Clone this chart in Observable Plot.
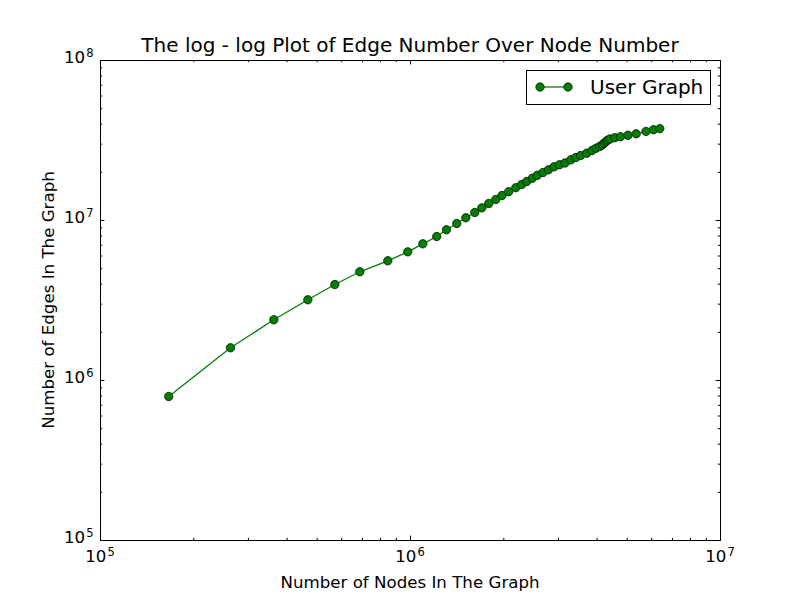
<!DOCTYPE html>
<html>
<head>
<meta charset="utf-8">
<script src="https://cdn.jsdelivr.net/npm/d3@7"></script>
<script src="https://cdn.jsdelivr.net/npm/@observablehq/plot@0.6"></script>
<style>
  body { margin: 0; background: #fff; }
  svg { font-family: "DejaVu Sans", sans-serif; }
</style>
</head>
<body>
<div id="chart"></div>
<script>
// ---- data ----
const nodes = [166000, 262700, 362300, 466400, 569900, 686200, 844800, 980000, 1096000, 1215000,
  1306000, 1410000, 1508000, 1612000, 1699000, 1789000, 1884000, 1973000, 2074000, 2186000,
  2284000, 2371000, 2472000, 2565000, 2677000, 2787000, 2904000, 3024000, 3150000, 3289000,
  3414000, 3540000, 3702000, 3850000, 3967000, 4077000, 4156000, 4209000, 4266000, 4320000,
  4400000, 4560000, 4757000, 5030000, 5346000, 5750000, 6080000, 6372000];
const edges = [794000, 1601000, 2395000, 3194000, 3980000, 4780000, 5600000, 6370000, 7150000, 7940000,
  8750000, 9580000, 10400000, 11220000, 12000000, 12770000, 13520000, 14330000, 15140000, 16030000,
  16790000, 17530000, 18380000, 19170000, 19950000, 20740000, 21660000, 22300000, 22870000, 23950000,
  24760000, 25480000, 26340000, 27380000, 28310000, 29000000, 29650000, 30370000, 31080000, 31770000,
  32300000, 32930000, 33400000, 34080000, 34830000, 36050000, 36930000, 37500000];
const xTickExponents = [5, 6, 7];
const yTickExponents = [5, 6, 7, 8];
const minorMultipliers = [2, 3, 4, 5, 6, 7, 8, 9];
const seriesName = "User Graph";
const titleText = "The log - log Plot of Edge Number Over Node Number";
const xLabel = "Number of Nodes In The Graph";
const yLabel = "Number of Edges In The Graph";

// ---- derived ----
const data = nodes.map((n, i) => ({n, e: edges[i]}));
const xMajor = xTickExponents.map(e => 10 ** e);
const yMajor = yTickExponents.map(e => 10 ** e);
const minorOf = maj => maj.slice(0, -1).flatMap(d => minorMultipliers.map(m => d * m));
const xMinor = minorOf(xMajor);
const yMinor = minorOf(yMajor);

const W = 800, H = 600, mL = 100, mR = 80, mT = 60, mB = 60;
const fw = W - mL - mR, fh = H - mT - mB;
const majLen = 4.4, minLen = 2.2;
const green = "#008000";

const chart = Plot.plot({
  width: W, height: H,
  marginLeft: mL, marginRight: mR, marginTop: mT, marginBottom: mB,
  x: {type: "log", domain: [xMajor[0], xMajor[xMajor.length - 1]], axis: null},
  y: {type: "log", domain: [yMajor[0], yMajor[yMajor.length - 1]], axis: null},
  style: {background: "white", fontFamily: "DejaVu Sans"},
  marks: [
    Plot.line(data, {x: "n", y: "e", stroke: green, strokeWidth: 1.3}),
    Plot.dot(data, {x: "n", y: "e", r: 4.2, fill: green, stroke: "black", strokeWidth: 0.7}),
    // inward ticks on all four sides
    Plot.tickX(xMajor, {x: d => d, insetTop: fh - majLen, stroke: "black"}),
    Plot.tickX(xMajor, {x: d => d, insetBottom: fh - majLen, stroke: "black"}),
    Plot.tickX(xMinor, {x: d => d, insetTop: fh - minLen, stroke: "black"}),
    Plot.tickX(xMinor, {x: d => d, insetBottom: fh - minLen, stroke: "black"}),
    Plot.tickY(yMajor, {y: d => d, insetRight: fw - majLen, stroke: "black"}),
    Plot.tickY(yMajor, {y: d => d, insetLeft: fw - majLen, stroke: "black"}),
    Plot.tickY(yMinor, {y: d => d, insetRight: fw - minLen, stroke: "black"}),
    Plot.tickY(yMinor, {y: d => d, insetLeft: fw - minLen, stroke: "black"}),
    Plot.frame({stroke: "black", strokeWidth: 1})
  ]
});
document.getElementById("chart").appendChild(chart);

const svg = d3.select(chart);
const sx = chart.scale("x"), sy = chart.scale("y");
const tickFont = 16.67, supFont = 11.5;

// x tick labels (10^e)
xTickExponents.forEach((e, i) => {
  const t = svg.append("text")
    .attr("x", sx.apply(xMajor[i])).attr("y", H - mB + 21.7)
    .attr("text-anchor", "middle").attr("font-size", tickFont).attr("fill", "black")
    .text("10");
  t.append("tspan").attr("dy", -6).attr("dx", 1).attr("font-size", supFont).text(e);
});
// y tick labels
yTickExponents.forEach((e, i) => {
  const t = svg.append("text")
    .attr("x", mL - 6.5).attr("y", sy.apply(yMajor[i]) + 3.3)
    .attr("text-anchor", "end").attr("font-size", tickFont).attr("fill", "black")
    .text("10");
  t.append("tspan").attr("dy", -6).attr("dx", 1).attr("font-size", supFont).text(e);
});

// title and axis labels
svg.append("text").attr("x", mL + fw / 2).attr("y", 51.5)
  .attr("text-anchor", "middle").attr("font-size", 20).attr("fill", "black").text(titleText);
svg.append("text").attr("x", mL + fw / 2).attr("y", 587.5)
  .attr("text-anchor", "middle").attr("font-size", tickFont).attr("fill", "black").text(xLabel);
svg.append("text").attr("transform", `translate(54,${mT + fh / 2}) rotate(-90)`)
  .attr("text-anchor", "middle").attr("font-size", tickFont).attr("fill", "black").text(yLabel);

// legend
const lg = svg.append("g");
lg.append("rect").attr("x", 526.5).attr("y", 70.5).attr("width", 184).attr("height", 34)
  .attr("fill", "white").attr("stroke", "black").attr("stroke-width", 1);
lg.append("line").attr("x1", 540).attr("x2", 568).attr("y1", 87).attr("y2", 87)
  .attr("stroke", green).attr("stroke-width", 1.3);
[540, 568].forEach(cx => lg.append("circle").attr("cx", cx).attr("cy", 87).attr("r", 4.2)
  .attr("fill", green).attr("stroke", "black").attr("stroke-width", 0.7));
lg.append("text").attr("x", 590).attr("y", 94).attr("text-anchor", "start")
  .attr("font-size", 20).attr("fill", "black").text(seriesName);
</script>
</body>
</html>
